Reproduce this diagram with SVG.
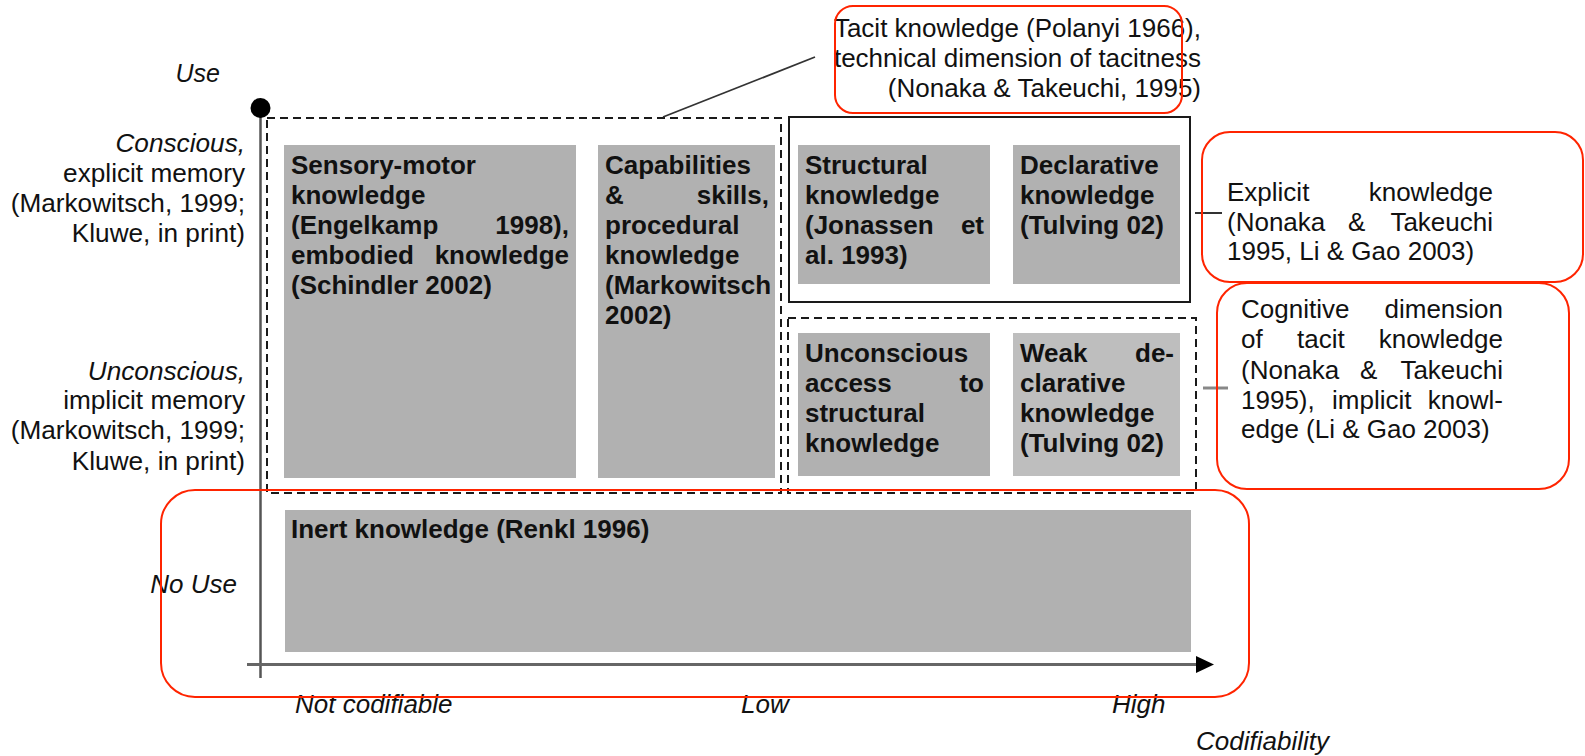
<svg xmlns="http://www.w3.org/2000/svg" width="1585" height="756" viewBox="0 0 1585 756">
<style>
  text { font-family: "Liberation Sans", Arial, sans-serif; fill: #111; }
  .lbl { font-size: 26.2px; font-style: italic; }
  .lbr { font-size: 26.2px; }
  .ax { font-size: 26px; font-style: italic; }
  .rt { font-size: 26px; }
  .bx { font-size: 26px; font-weight: bold; }
  .end { text-anchor: end; }
  .gray { fill: #b1b1b1; }
  .gray2 { fill: #bebebe; }
  .dash { fill: none; stroke: #1a1a1a; stroke-width: 2; stroke-dasharray: 8 5; }
  .solid { fill: none; stroke: #1a1a1a; stroke-width: 2; }
  .red { fill: none; stroke: #ff2400; stroke-width: 2; }
</style>
<rect width="1585" height="756" fill="#fff"/>

<g id="axes">
  <line x1="260.5" y1="108" x2="260.5" y2="678" stroke="#555" stroke-width="2.5"/>
  <circle cx="260.5" cy="108" r="10" fill="#000"/>
  <line x1="247" y1="664.5" x2="1198" y2="664.5" stroke="#666" stroke-width="3"/>
  <polygon points="1196,656 1214,664.5 1196,673" fill="#000"/>
</g>

<g id="axis-labels">
  <text class="lbl end" x="220" y="82" style="font-size:25px">Use</text>
  <text class="lbl end" x="245" y="152">Conscious,</text>
  <text class="lbr end" x="245" y="182">explicit memory</text>
  <text class="lbr end" x="245" y="212">(Markowitsch, 1999;</text>
  <text class="lbr end" x="245" y="242">Kluwe, in print)</text>
  <text class="lbl end" x="245" y="379.5">Unconscious,</text>
  <text class="lbr end" x="245" y="409">implicit memory</text>
  <text class="lbr end" x="245" y="439">(Markowitsch, 1999;</text>
  <text class="lbr end" x="245" y="470">Kluwe, in print)</text>
  <text class="lbl end" x="237" y="593" style="font-size:26px">No Use</text>
  <text class="ax" x="295" y="713">Not codifiable</text>
  <text class="ax" x="741" y="713">Low</text>
  <text class="ax" x="1112" y="713">High</text>
  <text class="ax" x="1196" y="750">Codifiability</text>
</g>

<g id="group-tacit-technical">
  <rect class="dash" x="267" y="118" width="514" height="375"/>
</g>
<g id="group-explicit">
  <rect class="solid" x="789" y="117" width="401" height="185"/>
</g>
<g id="group-tacit-cognitive">
  <rect class="dash" x="788" y="318" width="408" height="175"/>
</g>

<g id="node-sensory-motor">
  <rect class="gray" x="284" y="145" width="292" height="333"/>
  <text class="bx" x="291" y="173.5">Sensory-motor</text>
  <text class="bx" x="291" y="203.7">knowledge</text>
  <text class="bx" x="291" y="234">(Engelkamp</text>
  <text class="bx end" x="569" y="234">1998),</text>
  <text class="bx" x="291" y="264">embodied</text>
  <text class="bx end" x="569" y="264">knowledge</text>
  <text class="bx" x="291" y="294">(Schindler 2002)</text>
</g>

<g id="node-capabilities">
  <rect class="gray" x="598" y="145" width="177" height="333"/>
  <text class="bx" x="605" y="173.5">Capabilities</text>
  <text class="bx" x="605" y="203.7">&amp;</text>
  <text class="bx end" x="769" y="203.7">skills,</text>
  <text class="bx" x="605" y="234">procedural</text>
  <text class="bx" x="605" y="264">knowledge</text>
  <text class="bx" x="605" y="294">(Markowitsch</text>
  <text class="bx" x="605" y="324">2002)</text>
</g>

<g id="node-structural">
  <rect class="gray" x="798" y="145" width="192" height="139"/>
  <text class="bx" x="805" y="173.5">Structural</text>
  <text class="bx" x="805" y="203.7">knowledge</text>
  <text class="bx" x="805" y="234">(Jonassen</text>
  <text class="bx end" x="984" y="234">et</text>
  <text class="bx" x="805" y="264">al. 1993)</text>
</g>

<g id="node-declarative">
  <rect class="gray" x="1013" y="145" width="167" height="139"/>
  <text class="bx" x="1020" y="173.5">Declarative</text>
  <text class="bx" x="1020" y="203.7">knowledge</text>
  <text class="bx" x="1020" y="234">(Tulving 02)</text>
</g>

<g id="node-unconscious-access">
  <rect class="gray" x="798" y="333" width="192" height="143"/>
  <text class="bx" x="805" y="361.5">Unconscious</text>
  <text class="bx" x="805" y="391.7">access</text>
  <text class="bx end" x="984" y="391.7">to</text>
  <text class="bx" x="805" y="422">structural</text>
  <text class="bx" x="805" y="452">knowledge</text>
</g>

<g id="node-weak-declarative">
  <rect class="gray2" x="1013" y="333" width="167" height="143"/>
  <text class="bx" x="1020" y="361.5">Weak</text>
  <text class="bx end" x="1174" y="361.5">de-</text>
  <text class="bx" x="1020" y="391.7">clarative</text>
  <text class="bx" x="1020" y="422">knowledge</text>
  <text class="bx" x="1020" y="452">(Tulving 02)</text>
</g>

<g id="node-inert">
  <rect class="gray" x="285" y="510" width="906" height="142"/>
  <text class="bx" x="291" y="538">Inert knowledge (Renkl 1996)</text>
</g>

<g id="connectors">
  <line x1="663" y1="117" x2="815" y2="57" stroke="#333" stroke-width="1.8"/>
  <line x1="1195" y1="213" x2="1222" y2="213" stroke="#333" stroke-width="2"/>
  <line x1="1203" y1="388" x2="1228" y2="388" stroke="#888" stroke-width="3"/>
</g>

<g id="label-tacit">
  <text class="rt end" x="1201" y="37">Tacit knowledge (Polanyi 1966),</text>
  <text class="rt end" x="1201" y="67">technical dimension of tacitness</text>
  <text class="rt end" x="1201" y="97">(Nonaka &amp; Takeuchi, 1995)</text>
</g>

<g id="label-explicit">
  <text class="rt" x="1227" y="201">Explicit</text>
  <text class="rt end" x="1493" y="201">knowledge</text>
  <text class="rt" x="1227" y="230.5">(Nonaka</text>
  <text class="rt" x="1348" y="230.5">&amp;</text>
  <text class="rt end" x="1493" y="230.5">Takeuchi</text>
  <text class="rt" x="1227" y="260">1995, Li &amp; Gao 2003)</text>
</g>

<g id="label-cognitive">
  <text class="rt" x="1241" y="318">Cognitive</text>
  <text class="rt end" x="1503" y="318">dimension</text>
  <text class="rt" x="1241" y="348">of</text>
  <text class="rt" x="1297" y="348">tacit</text>
  <text class="rt end" x="1503" y="348">knowledge</text>
  <text class="rt" x="1241" y="379">(Nonaka</text>
  <text class="rt" x="1360" y="379">&amp;</text>
  <text class="rt end" x="1503" y="379">Takeuchi</text>
  <text class="rt" x="1241" y="409">1995),</text>
  <text class="rt" x="1332" y="409">implicit</text>
  <text class="rt end" x="1503" y="409">knowl-</text>
  <text class="rt" x="1241" y="438">edge (Li &amp; Gao 2003)</text>
</g>

<g id="highlights">
  <rect class="red" x="835" y="6" width="347" height="107" rx="18"/>
  <rect class="red" x="1202" y="132" width="381" height="150" rx="28"/>
  <rect class="red" x="1217" y="283" width="352" height="206" rx="30"/>
  <rect class="red" x="161" y="490" width="1088" height="207" rx="34"/>
</g>
</svg>
